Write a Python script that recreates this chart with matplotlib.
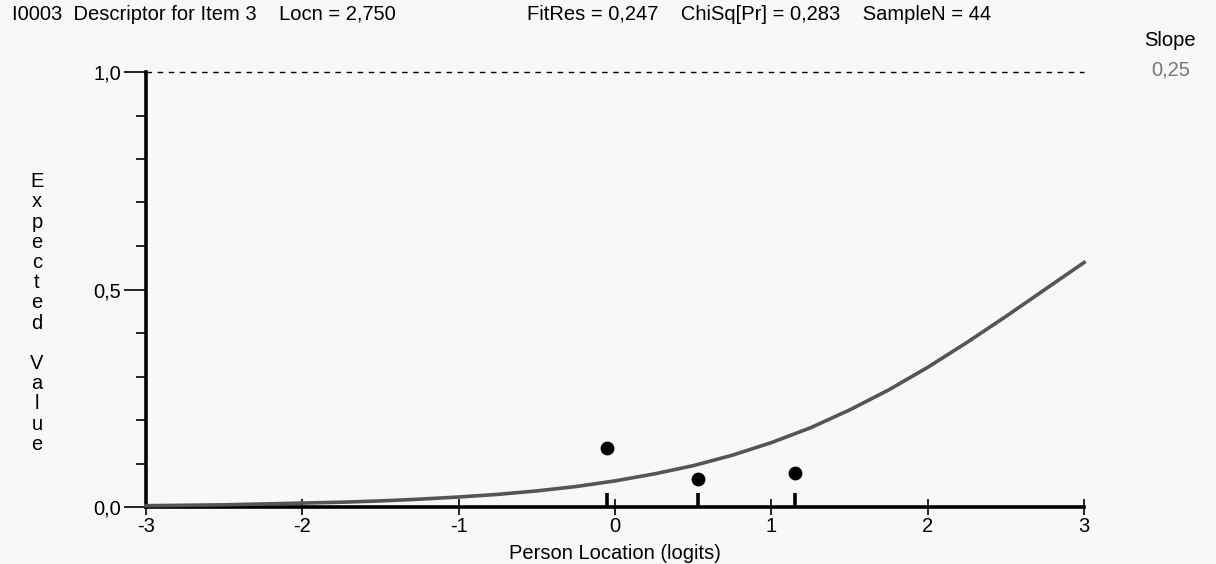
import numpy as np
import matplotlib.pyplot as plt

# model curve (x in logits, expected value)
curve_x = [-3, -2.75, -2.5, -2.25, -2, -1.75, -1.5, -1.25, -1, -0.75, -0.5, -0.25,
           0, 0.25, 0.5, 0.75, 1, 1.25, 1.5, 1.75, 2, 2.25, 2.5, 2.75, 3]
curve_y = [0.003, 0.004, 0.005, 0.007, 0.009, 0.011, 0.014, 0.018, 0.023, 0.029, 0.037, 0.047,
           0.060, 0.076, 0.095, 0.119, 0.148, 0.182, 0.223, 0.269, 0.321, 0.378, 0.438, 0.500, 0.562]

# observed class interval means
obs_x = [-0.05, 0.53, 1.15]
obs_y = [0.135, 0.065, 0.078]

xticks = [-3, -2, -1, 0, 1, 2, 3]
yticks = [0.0, 0.5, 1.0]
ytick_labels = ['0,0', '0,5', '1,0']

plt.rcParams['font.family'] = ['Liberation Sans', 'DejaVu Sans']
bg = '#f8f8f8'
fs = 14.5

fig = plt.figure(figsize=(12.16, 5.64), dpi=100, facecolor=bg)
ax = fig.add_axes([146/1216, 1-507/564, (1084-146)/1216, (507-72)/564])
ax.set_facecolor(bg)

ax.plot(curve_x, curve_y, color='#555555', lw=2.6, zorder=3, clip_on=False)
ax.scatter(obs_x, obs_y, s=80, color='black', zorder=4, clip_on=False)
ax.vlines(obs_x, 0, 0.032, color='black', lw=2.6, zorder=4)
ax.axhline(1.0, color='black', lw=1, ls=(0, (4, 4)), clip_on=False)

ax.set_xlim(-3, 3)
ax.set_ylim(0, 1)
for s in ['top', 'right']:
    ax.spines[s].set_visible(False)
for s in ['left', 'bottom']:
    ax.spines[s].set_linewidth(2.6)
    ax.spines[s].set_color('black')

ax.set_xticks(xticks)
ax.set_xticklabels([str(t) for t in xticks], fontsize=fs)
ax.tick_params(axis='x', direction='inout', length=12, width=1.2, pad=1)
ax.set_yticks(yticks)
ax.set_yticklabels(ytick_labels, fontsize=fs)
ax.set_yticks(np.arange(0, 1.0001, 0.1), minor=True)
ax.tick_params(axis='y', which='major', length=16, width=1.2, pad=2)
ax.tick_params(axis='y', which='minor', length=7, width=1.2)

ax.set_xlabel('Person Location (logits)', fontsize=fs, labelpad=6)

fig.text(37/1216, 1-313/564, '\n'.join('Expected Value'), fontsize=fs,
         ha='center', va='center', linespacing=1.08)

fig.text(12/1216, 1-15/564, 'I0003  Descriptor for Item 3    Locn = 2,750',
         fontsize=fs, va='center')
fig.text(527/1216, 1-15/564, 'FitRes = 0,247    ChiSq[Pr] = 0,283    SampleN = 44',
         fontsize=fs, va='center')
fig.text(1170/1216, 1-41/564, 'Slope', fontsize=fs, ha='center', va='center')
fig.text(1190/1216, 1-70/564, '0,25', fontsize=fs, ha='right', va='center', color='#777777')

fig.savefig('out.png', dpi=100, facecolor=bg)
